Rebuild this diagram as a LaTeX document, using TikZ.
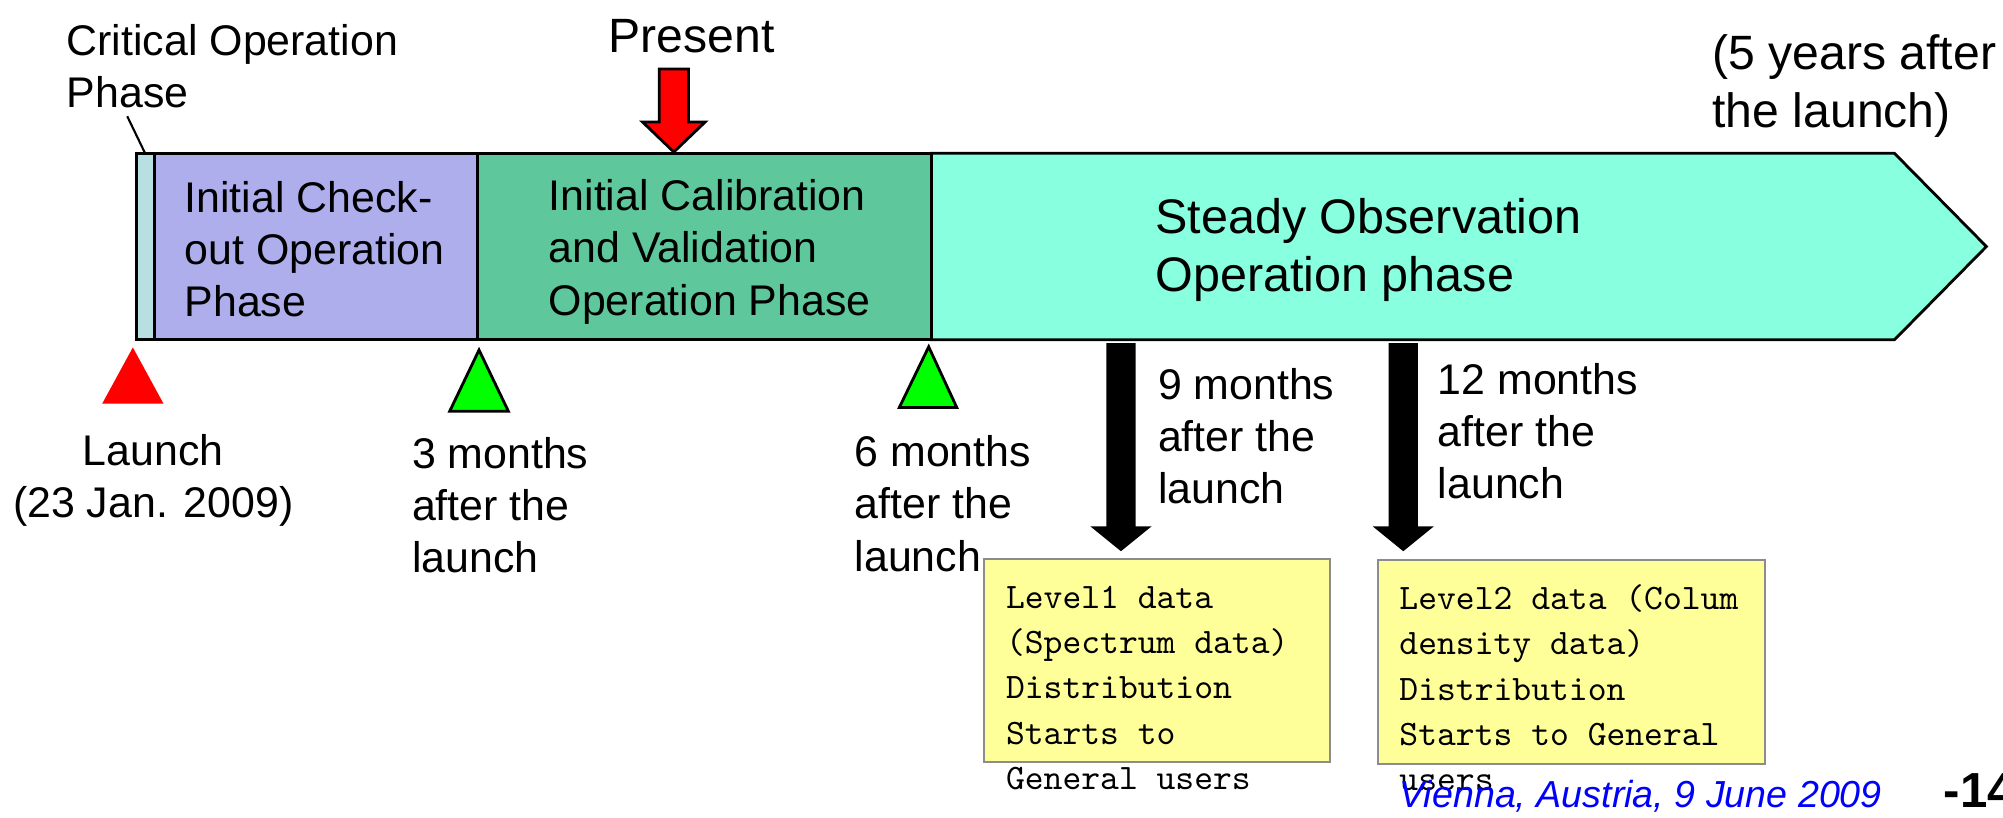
\documentclass[tikz,border=0pt]{standalone}
\usepackage{fontspec}
\setmainfont{Liberation Sans}
\usetikzlibrary{positioning}
\definecolor{crit}{HTML}{B8E0E2}
\definecolor{check}{HTML}{AEAEEC}
\definecolor{calib}{HTML}{5EC79C}
\definecolor{steady}{HTML}{88FFDF}
\definecolor{memo}{HTML}{FFFF99}
\definecolor{memoline}{HTML}{8C8C8C}
\definecolor{footblue}{HTML}{0000FF}

\begin{document}
\begin{tikzpicture}[x=0.012774cm,y=-0.012774cm,
    lbl/.style={inner sep=0,anchor=base west,align=left,font=\fontsize{12.2}{14.8}\selectfont},
    big/.style={inner sep=0,anchor=base west,align=left,font=\fontsize{13.7}{16.6}\selectfont},
    memotxt/.style={inner sep=0,anchor=base west,align=left,font=\ttfamily\fontsize{10.2}{12.9}\selectfont},
    phase/.style={draw,line width=0.8pt},
    milestone/.style={draw,line width=0.8pt,fill=green}]
  \useasboundingbox (0,0) rectangle (1568,640);
  % the time bar (texts sit on the baseline of their last line)
  \filldraw[phase,fill=steady] (729,120) -- (1483,120) -- (1555,193) -- (1483,266) -- (729,266) -- cycle;
  \filldraw[phase,fill=calib] (374,120) rectangle (729,266);
  \filldraw[phase,fill=check] (121,120) rectangle (374,266);
  \filldraw[phase,fill=crit] (107,120) rectangle (121,266);
  \node[lbl] (chk) at (144,248) {Initial Check-\\out Operation\\Phase};
  \node[lbl] (cal) at (429,246.6) {Initial Calibration\\and Validation\\Operation Phase};
  \node[big,font=\fontsize{13.8}{16.6}\selectfont] (obs) at (904,228.4) {Steady Observation\\Operation phase};
  % labels above
  \node[lbl] (crt) at (51.7,84) {Critical Operation\\Phase};
  \coordinate (crtfoot) at (99.6,91);
  \coordinate (crtbar) at (113.6,120);
  \draw[line width=0.6pt] (crtfoot) -- (crtbar);
  \node[big] (now) at (476,41) {Present};
  \filldraw[fill=red,line width=0.8pt] (516,54) -- (539,54) -- (539,95.5) -- (552,95.5) -- (527.5,119)
    -- (503,95.5) -- (516,95.5) -- cycle;
  \node[big] (end) at (1340,100) {(5 years after\\the launch)};
  % milestones
  \fill[red] (104,272) -- (128,316) -- (80,316) -- cycle;
  \filldraw[milestone] (375,274) -- (398,322) -- (352,322) -- cycle;
  \filldraw[milestone] (727,271.5) -- (749,319) -- (704,319) -- cycle;
  \node[lbl,anchor=base,align=center] (lnch) at (120,405) {Launch\\(23 Jan. 2009)};
  \node[lbl] (m3) at (322,448) {3 months\\after the\\launch};
  \node[lbl] (m6) at (668.5,447) {6 months\\after the\\launch};
  % data release
  \foreach \x in {877.5,1098.5}
    \fill ({\x-11.5},268.6) -- ({\x+11.5},268.6) -- ({\x+11.5},412) -- ({\x+24},412) -- (\x,431.5)
      -- ({\x-24},412) -- ({\x-11.5},412) -- cycle;
  \node[lbl] (m9) at (906,394) {9 months\\after the\\launch};
  \node[lbl] (m12) at (1125,390.4) {12 months\\after the\\launch};
  \filldraw[fill=memo,draw=memoline,line width=0.6pt] (770,437.6) rectangle (1041,596.6);
  \filldraw[fill=memo,draw=memoline,line width=0.6pt] (1079,438.6) rectangle (1382,598);
  \node[memotxt] (lv1) at (787,618) {Level1 data\\(Spectrum data)\\Distribution\\Starts to\\General users};
  \node[memotxt] (lv2) at (1095,619) {Level2 data (Colum\\density data)\\Distribution\\Starts to General\\users};
  % footer
  \node[inner sep=0,anchor=base west,text=footblue,font=\fontsize{10.7}{12}\selectfont\itshape] (foot) at (1095,632.5)
    {Vienna, Austria, 9 June 2009};
  \node[inner sep=0,anchor=base west,font=\fontsize{14}{16}\selectfont\bfseries] (pg) at (1521,632.5) {-14};
\end{tikzpicture}
\end{document}
